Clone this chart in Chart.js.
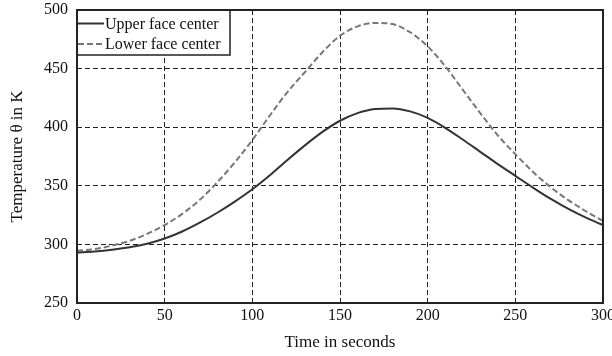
<!DOCTYPE html>
<html>
<head>
<meta charset="utf-8">
<script src="https://cdn.jsdelivr.net/npm/chart.js@4.4.1/dist/chart.umd.min.js"></script>
<style>
  html, body { margin: 0; padding: 0; background: #fff; overflow: hidden; }
  #wrap { position: relative; width: 612px; height: 356px; }
</style>
</head>
<body>
<div id="wrap"><canvas id="tempChart"></canvas></div>
<script>
// time axis, seconds
const timeSec = [0, 10, 20, 30, 40, 50, 60, 70, 80, 90, 100, 110, 120, 130, 140, 150,
  160, 170, 180, 190, 200, 210, 220, 230, 240, 250, 260, 270, 280, 290, 300];

// temperature at the upper face center, K
const upperFace = [293, 294, 295.5, 297.5, 300.5, 305, 311, 318.5, 327, 336.5, 347,
  359, 372, 384.5, 396, 405.5, 412, 415.5, 416, 413.5, 408, 399.5, 389.5, 379,
  368.5, 358.5, 348.5, 339, 330.5, 323, 316.5];

// temperature at the lower face center, K
const lowerFace = [294.5, 296, 299, 303, 309, 316.5, 326, 338, 353, 370, 389,
  410, 430, 447, 464, 478, 486, 489, 488, 481, 469, 452, 432, 412, 393, 377,
  362, 349, 338, 328.5, 320];

const seriesNames = ["Upper face center", "Lower face center"];
const xTicks = [0, 50, 100, 150, 200, 250, 300];
const yTicks = [250, 300, 350, 400, 450, 500];

const serif = "'Liberation Serif', 'DejaVu Serif', serif";

const toPoints = (ys) => ys.map((y, i) => ({ x: timeSec[i], y: y }));

// frame around the plot area plus a boxed legend in its top-left corner
const framePlugin = {
  id: "frameAndLegend",
  afterDatasetsDraw(chart) {
    const ctx = chart.ctx;
    const a = chart.chartArea;
    ctx.save();

    // legend box
    const bx = a.left, by = a.top, bw = 153, bh = 45;
    ctx.fillStyle = "#fff";
    ctx.fillRect(bx, by, bw, bh);
    ctx.strokeStyle = "#222";
    ctx.lineWidth = 1.5;
    ctx.setLineDash([]);
    ctx.strokeRect(bx, by, bw, bh);

    ctx.font = "16px " + serif;
    ctx.textBaseline = "middle";
    ctx.textAlign = "left";
    chart.data.datasets.forEach((ds, i) => {
      const ly = by + 13.5 + i * 20.5;
      ctx.beginPath();
      ctx.strokeStyle = ds.borderColor;
      ctx.lineWidth = ds.borderWidth;
      ctx.setLineDash(ds.borderDash || []);
      ctx.moveTo(bx + 1, ly);
      ctx.lineTo(bx + 27, ly);
      ctx.stroke();
      ctx.fillStyle = "#111";
      ctx.fillText(ds.label, bx + 28, ly + 1);
    });

    // outer frame
    ctx.setLineDash([]);
    ctx.strokeStyle = "#222";
    ctx.lineWidth = 2;
    ctx.strokeRect(a.left, a.top, a.right - a.left, a.bottom - a.top);
    ctx.restore();
  },
};

new Chart(document.getElementById("tempChart"), {
  type: "line",
  data: {
    datasets: [
      {
        label: seriesNames[0],
        data: toPoints(upperFace),
        borderColor: "#333",
        borderWidth: 2,
        pointRadius: 0,
        cubicInterpolationMode: "monotone",
      },
      {
        label: seriesNames[1],
        data: toPoints(lowerFace),
        borderColor: "#777",
        borderWidth: 2,
        borderDash: [6, 3],
        pointRadius: 0,
        cubicInterpolationMode: "monotone",
      },
    ],
  },
  options: {
    responsive: true,
    maintainAspectRatio: false,
    animation: false,
    layout: { padding: { top: 10, right: 9, left: 0, bottom: 0 } },
    plugins: {
      legend: { display: false },
      tooltip: { enabled: false },
    },
    scales: {
      x: {
        type: "linear",
        min: 0,
        max: 300,
        afterBuildTicks: (s) => { s.ticks = xTicks.map((v) => ({ value: v })); },
        afterFit: (s) => { s.height = 53; s.paddingLeft = 0; s.paddingRight = 0; },
        ticks: { color: "#111", font: { family: serif, size: 16 }, padding: 3 },
        grid: { color: "#222", lineWidth: 1, drawTicks: false },
        border: { display: false, dash: [5, 3] },
        title: {
          display: true,
          text: "Time in seconds",
          color: "#111",
          font: { family: serif, size: 17 },
          padding: { top: 4, bottom: 3 },
        },
      },
      y: {
        type: "linear",
        min: 250,
        max: 500,
        afterBuildTicks: (s) => { s.ticks = yTicks.map((v) => ({ value: v })); },
        afterFit: (s) => { s.width = 77; s.paddingTop = 0; s.paddingBottom = 0; },
        ticks: { color: "#111", font: { family: serif, size: 16 }, padding: 9 },
        grid: { color: "#222", lineWidth: 1, drawTicks: false },
        border: { display: false, dash: [5, 3] },
        title: {
          display: true,
          text: "Temperature θ in K",
          color: "#111",
          font: { family: serif, size: 17 },
          padding: { top: 7, bottom: 4 },
        },
      },
    },
  },
  plugins: [framePlugin],
});
</script>
</body>
</html>
